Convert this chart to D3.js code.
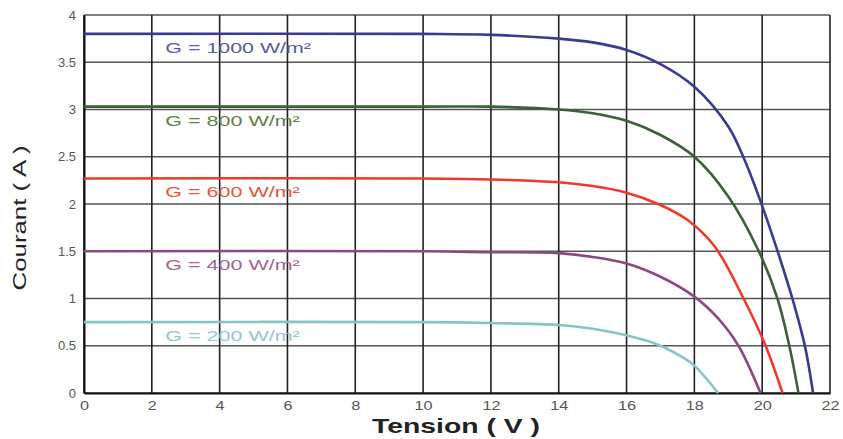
<!DOCTYPE html>
<html>
<head>
<meta charset="utf-8">
<script src="https://cdn.jsdelivr.net/npm/d3@7"></script>
<style>
	body { margin: 0; background: #fff; }
	svg { display: block; font-family: Arial, "Liberation Sans", sans-serif; }
</style>
</head>
<body>
<svg id="chart" width="843" height="439"></svg>
<script>
// I-V curves, one pair of arrays per irradiance
const v1000 = [0, 10, 12, 14, 15, 16, 17, 18, 19, 19.5, 20, 20.5, 20.93, 21.27, 21.5]
const i1000 = [3.80, 3.80, 3.79, 3.75, 3.71, 3.63, 3.48, 3.24, 2.82, 2.45, 1.98, 1.45, 0.95, 0.48, 0]
const v800 = [0, 10, 12, 14, 15, 16, 17, 18, 19, 19.9, 20.45, 20.8, 21.07]
const i800 = [3.03, 3.03, 3.03, 3.00, 2.96, 2.88, 2.73, 2.5, 2.08, 1.5, 1.0, 0.5, 0]
const v600 = [0, 10, 12, 14, 15, 16, 17, 17.8, 18.6, 19.45, 20.1, 20.6]
const i600 = [2.27, 2.27, 2.26, 2.23, 2.19, 2.12, 1.99, 1.83, 1.55, 1.0, 0.5, 0]
const v400 = [0, 10, 12, 14, 15, 16, 17, 18, 18.7, 19.3, 19.95]
const i400 = [1.50, 1.50, 1.49, 1.48, 1.44, 1.37, 1.23, 1.02, 0.79, 0.5, 0]
const v200 = [0, 10, 12, 14, 15, 16, 16.8, 17.6, 18, 18.7]
const i200 = [0.75, 0.75, 0.74, 0.72, 0.68, 0.61, 0.53, 0.39, 0.29, 0]

const labels = ['G = 1000 W/m²', 'G = 800 W/m²', 'G = 600 W/m²', 'G = 400 W/m²', 'G = 200 W/m²']
const lineColors = ['#3b3b8e', '#3d5f3a', '#ec3b2c', '#8a4a7e', '#86c4c6']
const labelColors = ['#5a5a9c', '#5f8049', '#e4563f', '#a3658f', '#97c6ce']
const xTicks = [0, 2, 4, 6, 8, 10, 12, 14, 16, 18, 20, 22]
const yTicks = [0, 0.5, 1, 1.5, 2, 2.5, 3, 3.5, 4]

const series = [
	{ v: v1000, i: i1000 },
	{ v: v800, i: i800 },
	{ v: v600, i: i600 },
	{ v: v400, i: i400 },
	{ v: v200, i: i200 }
].map((s, k) => ({
	label: labels[k],
	color: lineColors[k],
	labelColor: labelColors[k],
	pts: s.v.map((v, j) => ({ v, i: s.i[j] }))
}))

const svg = d3.select('#chart')
const margin = { top: 15, right: 13, bottom: 46, left: 84 }
const width = 843 - margin.left - margin.right
const height = 439 - margin.top - margin.bottom

const x = d3.scaleLinear().domain([0, 22]).range([0, width])
const y = d3.scaleLinear().domain([0, 4]).range([height, 0])

const chart = svg.append('g')
	.attr('transform', `translate(${margin.left}, ${margin.top})`)

// grid
chart.append('g')
	.selectAll('line')
	.data(yTicks)
	.join('line')
	.attr('x1', 0).attr('x2', width)
	.attr('y1', d => y(d)).attr('y2', d => y(d))
	.attr('stroke', '#555')
	.attr('stroke-width', 1.5)

chart.append('g')
	.selectAll('line')
	.data(xTicks)
	.join('line')
	.attr('x1', d => x(d)).attr('x2', d => x(d))
	.attr('y1', 0).attr('y2', height)
	.attr('stroke', '#222')
	.attr('stroke-width', 1.6)

// axes
const xAxis = d3.axisBottom(x).tickValues(xTicks).tickSize(0).tickPadding(8)
const yAxis = d3.axisLeft(y).tickValues(yTicks).tickSize(0).tickPadding(8).tickFormat(d3.format('~g'))

chart.append('g')
	.attr('transform', `translate(0, ${height})`)
	.call(xAxis)
	.call(g => g.select('.domain').attr('stroke', '#111').attr('stroke-width', 2))
	.call(g => g.selectAll('text').attr('fill', '#555').attr('font-size', 13).attr('transform', 'scale(1.25,1)'))

chart.append('g')
	.call(yAxis)
	.call(g => g.select('.domain').attr('stroke', '#111').attr('stroke-width', 2))
	.call(g => g.selectAll('text').attr('fill', '#555').attr('font-size', 13))

// curves
const line = d3.line()
	.x(d => x(d.v))
	.y(d => y(d.i))
	.curve(d3.curveCatmullRom.alpha(0.5))

chart.append('g')
	.selectAll('path')
	.data(series)
	.join('path')
	.attr('fill', 'none')
	.attr('stroke', d => d.color)
	.attr('stroke-width', 2.6)
	.attr('d', d => line(d.pts))

chart.append('g')
	.selectAll('text')
	.data(series)
	.join('text')
	.attr('x', x(2.4))
	.attr('y', d => y(d.pts[0].i) + 19)
	.attr('fill', d => d.labelColor)
	.attr('font-size', 14)
	.attr('textLength', d => d.label.length * 11.2)
	.attr('lengthAdjust', 'spacingAndGlyphs')
	.text(d => d.label)

// titles
svg.append('text')
	.attr('x', 456)
	.attr('y', 433)
	.attr('text-anchor', 'middle')
	.attr('font-size', 21)
	.attr('font-weight', 'bold')
	.attr('fill', '#222')
	.attr('textLength', 168)
	.attr('lengthAdjust', 'spacingAndGlyphs')
	.text('Tension ( V )')

svg.append('text')
	.attr('transform', 'translate(26, 218) rotate(-90)')
	.attr('text-anchor', 'middle')
	.attr('font-size', 19)
	.attr('fill', '#222')
	.attr('textLength', 145)
	.attr('lengthAdjust', 'spacingAndGlyphs')
	.text('Courant ( A )')
</script>
</body>
</html>
